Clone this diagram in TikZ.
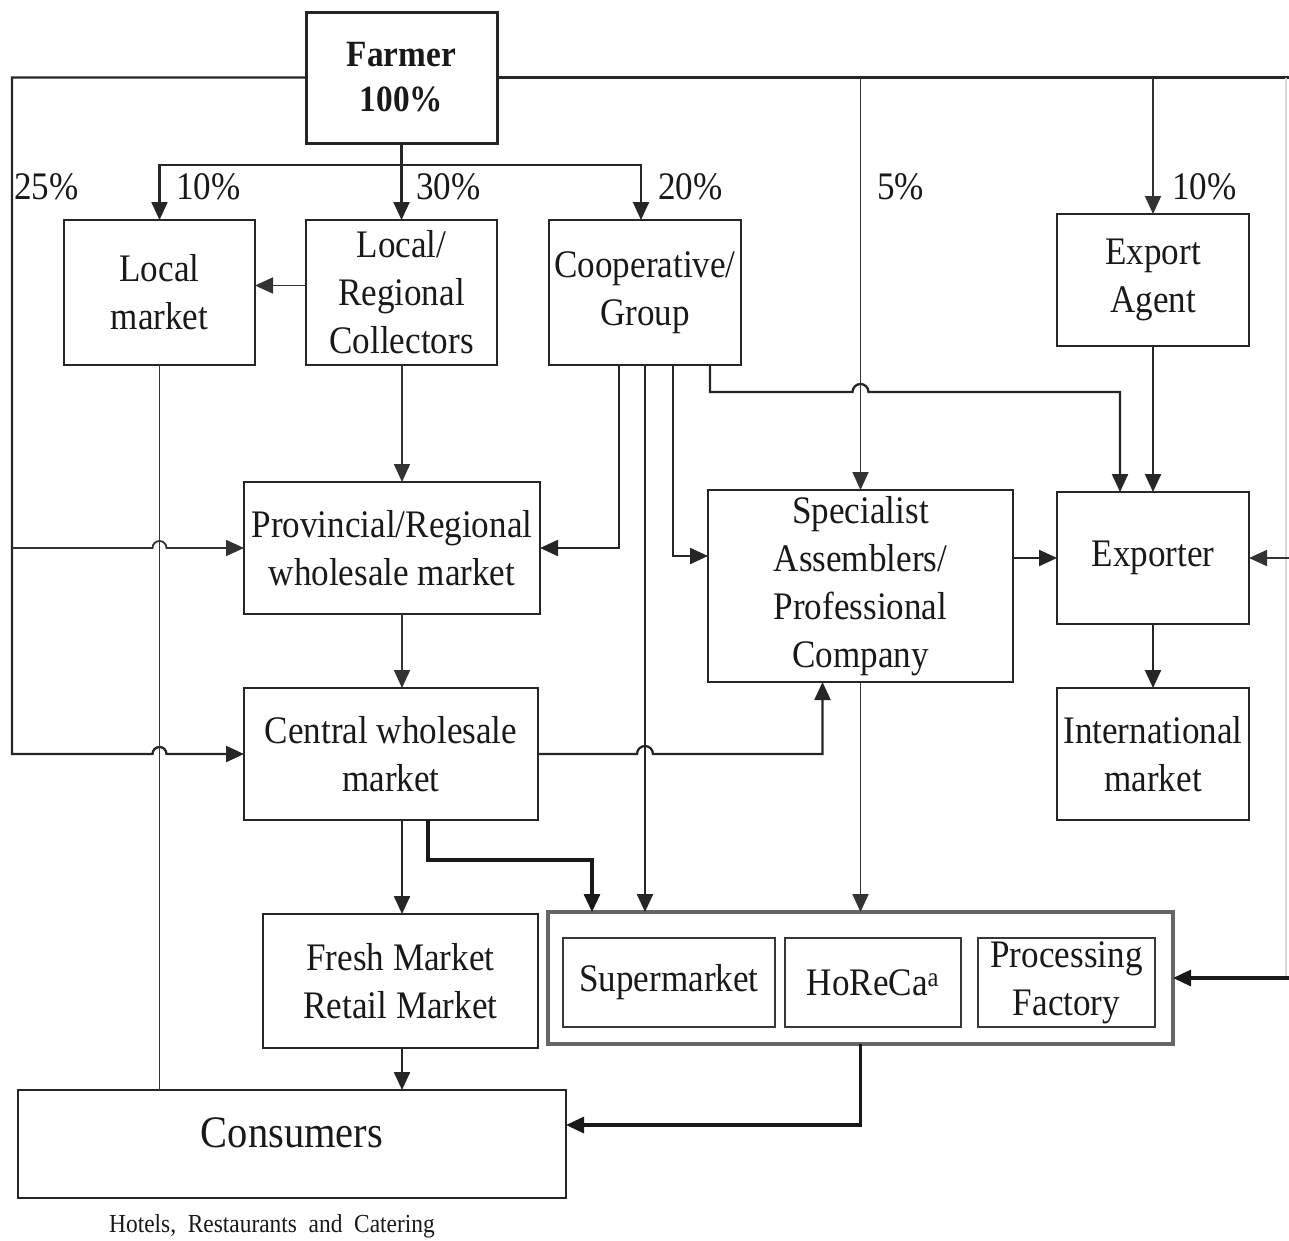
\documentclass[tikz,border=0pt]{standalone}
\usepackage{fontspec}
\setmainfont{Liberation Serif}[FakeStretch=0.9]
\usetikzlibrary{arrows.meta}
\begin{document}
\begin{tikzpicture}[x=1pt,y=-1pt,
  box/.style={draw=black!85, line width=2.8pt, inner sep=0pt, outer sep=0pt, align=center,
    font=\fontsize{39}{48}\selectfont, text=black!90},
  ibox/.style={box, draw=black!78, line width=2.4pt},
  obox/.style={draw=black!60, line width=3.4pt, inner sep=0pt, outer sep=0pt},
  conn/.style={draw=black!85, line width=2.3pt},
  thin conn/.style={draw=black!80, line width=1.8pt},
  thick conn/.style={draw=black!90, line width=3.2pt},
  arr/.style={-{Triangle[length=18pt,width=16pt]}},
  pct/.style={anchor=west, inner sep=0pt, font=\fontsize{39}{48}\selectfont, text=black!90}]
\useasboundingbox (0,0) rectangle (1289,1240);

% ---------- boxes ----------
\node[box, line width=3pt, minimum width=191pt, minimum height=131pt, font=\fontsize{37}{45}\selectfont\bfseries] (farmer) at (401.5,77.5) {Farmer\\100\%};
\node[box, minimum width=191pt, minimum height=145pt] (localm) at (159.5,292.5) {Local\\market};
\node[box, minimum width=191pt, minimum height=145pt] (coll) at (401.5,292.5) {Local/\\Regional\\Collectors};
\node[box, minimum width=192pt, minimum height=145pt] (coop) at (645,292.5) {Cooperative/\\Group};
\node[box, minimum width=192pt, minimum height=132pt] (agent) at (1153,280) {Export\\Agent};
\node[box, minimum width=296pt, minimum height=132pt] (prov) at (392,548) {Provincial/Regional\\wholesale market};
\node[box, minimum width=294pt, minimum height=132pt] (central) at (391,754) {Central wholesale\\market};
\node[box, minimum width=305pt, minimum height=192pt] (spec) at (860.5,586) {Specialist\\Assemblers/\\Professional\\Company};
\node[box, minimum width=192pt, minimum height=132pt] (exporter) at (1153,558) {Exporter};
\node[box, minimum width=192pt, minimum height=132pt] (intl) at (1153,754) {International\\market};
\node[box, minimum width=275pt, minimum height=134pt] (fresh) at (400.5,981) {Fresh Market\\Retail Market};
\node[obox, minimum width=625pt, minimum height=132pt] (outer) at (860.5,978) {};
\node[ibox, minimum width=212pt, minimum height=89pt] (superm) at (669,982.5) {Supermarket};
\node[ibox, minimum width=176pt, minimum height=89pt] (horeca) at (873,982.5) {HoReCa\textsuperscript{a}};
\node[ibox, minimum width=177pt, minimum height=89pt] (proc) at (1066.5,982.5) {Processing\\Factory};
\node[box, minimum width=548pt, minimum height=108pt, font=\fontsize{45}{50}\selectfont, text depth=22pt] (cons) at (292,1144) {Consumers};

% ---------- labels ----------
\node[pct] (p25) at (14,187) {25\%};
\node[pct] (p10a) at (176,187) {10\%};
\node[pct] (p30) at (416,187) {30\%};
\node[pct] (p20) at (658,187) {20\%};
\node[pct] (p5) at (877,187) {5\%};
\node[pct] (p10b) at (1172,187) {10\%};
\node[inner sep=0pt, font=\fontsize{26}{30}\selectfont, text=black!90] (cap) at (272,1226) {Hotels,\ \ Restaurants\ \ and\ \ Catering};

% ---------- helper coordinates ----------
\coordinate (leftx) at (12,0);
\coordinate (rightx) at (1286,0);
\coordinate (midx) at (402,0);
\coordinate (split) at (401.5,165);

% ---------- connectors ----------
% farmer split
\draw[conn] (farmer.south) -- (split);
\draw[conn,arr] (split) -- (coll.north);
\draw[conn,arr] (split) -| (localm.north);
\draw[conn,arr] (split) -| ([xshift=-4pt]coop.north);

% farmer left branch (25%)
\draw[conn,arr] (farmer.west) -- (farmer.west -| leftx) -- (central.west -| leftx)
  -- ([xshift=-7pt]central.west -| localm.south) arc[start angle=180,end angle=0,radius=7pt]
  -- (central.west);
\draw[thin conn,arr] (prov.west -| leftx)
  -- ([xshift=-7pt]prov.west -| localm.south) arc[start angle=180,end angle=0,radius=7pt]
  -- (prov.west);

% farmer right branch
\draw[conn] (farmer.east) -- (farmer.east -| rightx) -- ([xshift=4pt]farmer.east -| rightx);
\draw[draw=black!15, line width=1.2pt] (farmer.east -| rightx) -- (outer.east -| rightx);
\draw[thin conn,arr] ([xshift=4pt]exporter.east -| rightx) -- (exporter.east);
\draw[thick conn,arr] ([xshift=4pt]outer.east -| rightx) -- (outer.east);
\draw[thin conn,arr] (farmer.east -| spec.north) -- (spec.north);
\draw[thin conn,arr] (farmer.east -| agent.north) -- (agent.north);
\draw[conn,arr] (agent.south) -- (exporter.north);

% local market
\draw[thin conn] (localm.south) -- (localm.south |- cons.north);

% collectors
\draw[thin conn,arr] ([yshift=7pt]coll.west) -- ([yshift=7pt]coll.west -| localm.east);
\draw[thin conn,arr] (coll.south -| midx) -- (prov.north -| midx);

% cooperative
\draw[conn,arr] ([xshift=-26pt]coop.south) |- (prov.east);
\draw[conn,arr] (coop.south) -- (coop.south |- outer.north);
\draw[conn,arr] ([xshift=28pt]coop.south) |- ([yshift=30pt]spec.west);
\coordinate (cx1) at ([xshift=65pt]coop.south);
\coordinate (cx2) at ([xshift=-33pt]exporter.north);
\draw[conn,arr] (cx1) -- (cx1 |- 0,392)
  -- ([xshift=-8pt]spec.north |- 0,392) arc[start angle=180,end angle=0,radius=8pt]
  -- (cx2 |- 0,392) -- (cx2);

% wholesale chain
\draw[thin conn,arr] (prov.south -| midx) -- (central.north -| midx);
\coordinate (cspec) at ([xshift=-38pt]spec.south);
\draw[conn,arr] (central.east)
  -- ([xshift=-8pt]central.east -| coop.south) arc[start angle=180,end angle=0,radius=8pt]
  -- (central.east -| cspec) -- (cspec);
\draw[conn,arr] (central.south -| midx) -- (fresh.north -| midx);
\coordinate (cs1) at ([xshift=37pt]central.south);
\coordinate (cs2) at (592,860);
\draw[thick conn,arr] (cs1) -- (cs1 |- cs2) -- (cs2) -- (cs2 |- outer.north);

% specialist
\draw[conn,arr] (exporter.west -| spec.east) -- (exporter.west);
\draw[thin conn,arr] (spec.south) -- (outer.north);

% exporter
\draw[conn,arr] (exporter.south) -- (intl.north);

% to consumers
\draw[conn,arr] (fresh.south -| midx) -- (cons.north -| midx);
\draw[thick conn,arr] (outer.south) |- ([yshift=19pt]cons.east);
\end{tikzpicture}
\end{document}
